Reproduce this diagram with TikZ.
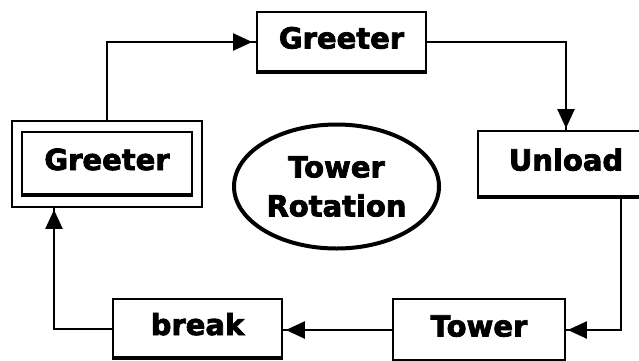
\documentclass[tikz,border=0pt]{standalone}
\usepackage{fontspec}
\setmainfont{DejaVu Sans}[BoldFeatures={FakeBold=2.6}]
\usetikzlibrary{shapes.geometric,arrows.meta,decorations.markings,calc}

\tikzset{
  statebox/.style={draw=black, line width=1.6pt, fill=white, inner sep=0pt,
    font=\bfseries\fontsize{29}{32}\selectfont,
    text height=21pt, text depth=8pt},
  flow/.style={draw=black, line width=2pt},
  tipat/.style={postaction={decorate, decoration={markings,
    mark=at position #1 with {\arrow{Triangle[length=19pt,width=17pt]}}}}},
  base/.style={line width=3.2pt, line cap=butt}
}

\begin{document}
\begin{tikzpicture}[x=1pt, y=-1pt]
  \useasboundingbox (0,0) rectangle (639,360);
  \clip (0,0) rectangle (639,360);

  % states of the rotation
  \node[statebox, minimum width=169pt, minimum height=60pt] (tg) at (341.5,42) {Greeter};
  \node[draw=black, line width=1.6pt, minimum width=190pt, minimum height=86pt, inner sep=0pt] (lgo) at (107,164) {};
  \node[statebox, minimum width=170pt, minimum height=63pt] (lg) at (107,163.5) {Greeter};
  \node[statebox, minimum width=176pt, minimum height=66pt] (ul) at (566,164) {Unload};
  \node[statebox, minimum width=172pt, minimum height=62pt] (tw) at (479,330) {Tower};
  \node[statebox, minimum width=169pt, minimum height=59pt] (br) at (197.5,328.5) {break};

  % heavier bottom edges
  \foreach \n in {tg,lg,ul,tw,br}
    \draw[base] ($(\n.south west)+(0,-0.8)$) -- ($(\n.south east)+(0,-0.8)$);

  % centre label
  \node[draw=black, line width=4pt, ellipse, minimum width=205pt, minimum height=124pt,
        inner sep=0pt, align=center, font=\bfseries\fontsize{29}{39}\selectfont] (rot) at (336.5,186.5)
        {Tower\\Rotation};

  % turning points of the connectors
  \coordinate (cR) at (621,0);
  \coordinate (cL) at (54,0);

  % connectors
  \draw[flow, tipat=-4pt] (lgo.north) |- (tg.west);
  \draw[flow, tipat=-2pt] (tg.east) -| (ul.north);
  \draw[flow, tipat=-2pt] (ul.south -| cR) |- (tw.east);
  \draw[flow, tipat=-3pt] (tw.west) -- (tw.west -| br.east);
  \draw[flow, tipat=-2pt] (br.west) -| (lgo.south -| cL);
\end{tikzpicture}
\end{document}
